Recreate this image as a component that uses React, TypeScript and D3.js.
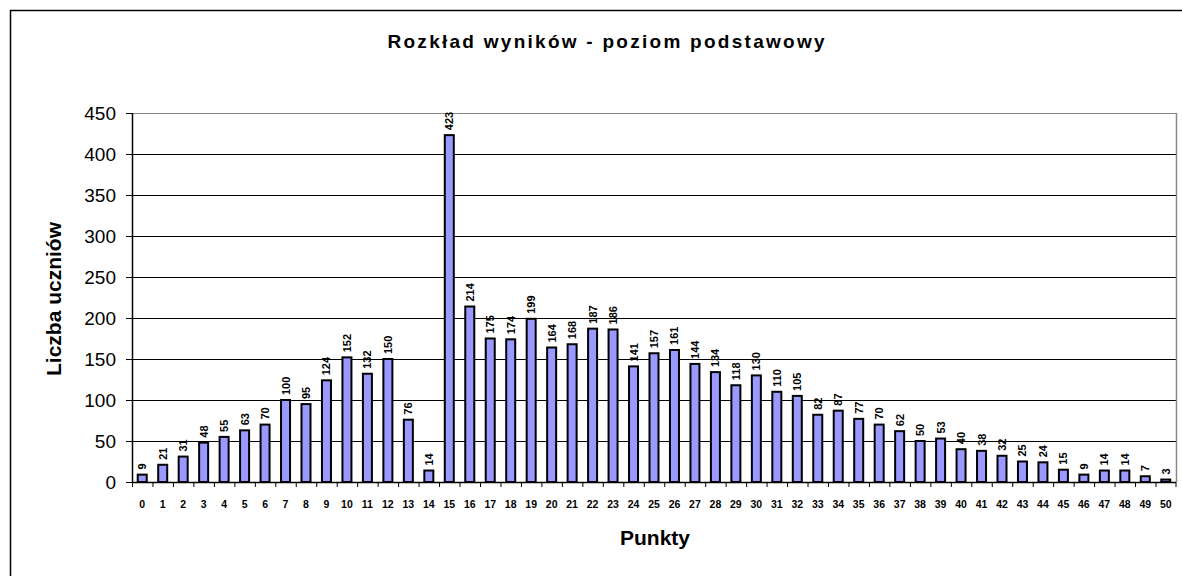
import React from "react";
import * as d3 from "d3";

const title = "Rozkład wyników - poziom podstawowy";
const xTitle = "Punkty";
const yTitle = "Liczba uczniów";
const categories: string[] = Array.from({ length: 51 }, (_, i) => String(i));
const values: number[] = [
  9, 21, 31, 48, 55, 63, 70, 100, 95, 124, 152, 132, 150, 76, 14, 423, 214, 175, 174, 199,
  164, 168, 187, 186, 141, 157, 161, 144, 134, 118, 130, 110, 105, 82, 87, 77, 70, 62, 50, 53,
  40, 38, 32, 25, 24, 15, 9, 14, 14, 7, 3,
];
const yTicks: number[] = [0, 50, 100, 150, 200, 250, 300, 350, 400, 450];

const W = 1182;
const H = 576;
const left = 132;
const right = 1176;
const top = 113;
const bottom = 482;

export default function App() {
  const x = d3.scaleBand<string>().domain(categories).range([left, right]).paddingInner(0.56).paddingOuter(0.28);
  const y = d3.scaleLinear().domain([0, 450]).range([bottom, top]);
  const step = x.step();
  const font = "Arial, 'Liberation Sans', Helvetica, sans-serif";
  return (
    <svg width={W} height={H} style={{ position: "absolute", left: 0, top: 0 }} fontFamily={font}>
      <rect x={0} y={0} width={W} height={H} fill="#fff" />
      <path d={`M10.5,${H + 2}V10.5H${W + 2}`} fill="none" stroke="#000" strokeWidth={1.5} />
      <text x={606} y={48} textAnchor="middle" fontSize={19} fontWeight="bold" textLength={437} lengthAdjust="spacing">
        {title}
      </text>
      {yTicks.filter((t) => t > 0).map((t) => (
        <line key={t} x1={left} x2={right} y1={Math.round(y(t)) + 0.5} y2={Math.round(y(t)) + 0.5}
          stroke={t === 450 ? "#888" : "#000"} strokeWidth={1} />
      ))}
      <line x1={right + 0.5} x2={right + 0.5} y1={top} y2={bottom} stroke="#888" strokeWidth={1.5} />
      <line x1={left + 0.5} x2={left + 0.5} y1={top} y2={bottom + 1} stroke="#000" strokeWidth={1.5} />
      {yTicks.map((t) => (
        <g key={t}>
          <line x1={left - 6} x2={left} y1={Math.round(y(t)) + 0.5} y2={Math.round(y(t)) + 0.5} stroke="#000" />
          <text x={116} y={y(t)} dy="0.35em" textAnchor="end" fontSize={19}>{t}</text>
        </g>
      ))}
      {values.map((v, i) => {
        const bx = x(categories[i])!;
        return (
          <rect key={i} x={bx} y={y(v)} width={x.bandwidth()} height={bottom - y(v)}
            fill="#9999FF" stroke="#000" strokeWidth={2} />
        );
      })}
      <line x1={left} x2={right} y1={bottom + 0.5} y2={bottom + 0.5} stroke="#000" strokeWidth={1.5} />
      {categories.map((c, i) => (
        <line key={"t" + i} x1={left + i * step + 0.5} x2={left + i * step + 0.5} y1={bottom} y2={bottom + 5} stroke="#000" />
      ))}
      <line x1={right} x2={right} y1={bottom} y2={bottom + 5} stroke="#000" />
      {categories.map((c) => (
        <text key={"l" + c} x={x(c)! + x.bandwidth() / 2} y={508} textAnchor="middle" fontSize={10.5} fontWeight="bold">{c}</text>
      ))}
      {values.map((v, i) => {
        const cx = x(categories[i])! + x.bandwidth() / 2 + 4;
        const cy = y(v) - 5;
        return (
          <text key={"v" + i} transform={`translate(${cx},${cy}) rotate(-90)`} fontSize={11} fontWeight="bold">{v}</text>
        );
      })}
      <text x={655} y={545} textAnchor="middle" fontSize={21} fontWeight="bold">{xTitle}</text>
      <text transform={`translate(61,299) rotate(-90)`} textAnchor="middle" fontSize={21} fontWeight="bold">{yTitle}</text>
    </svg>
  );
}
